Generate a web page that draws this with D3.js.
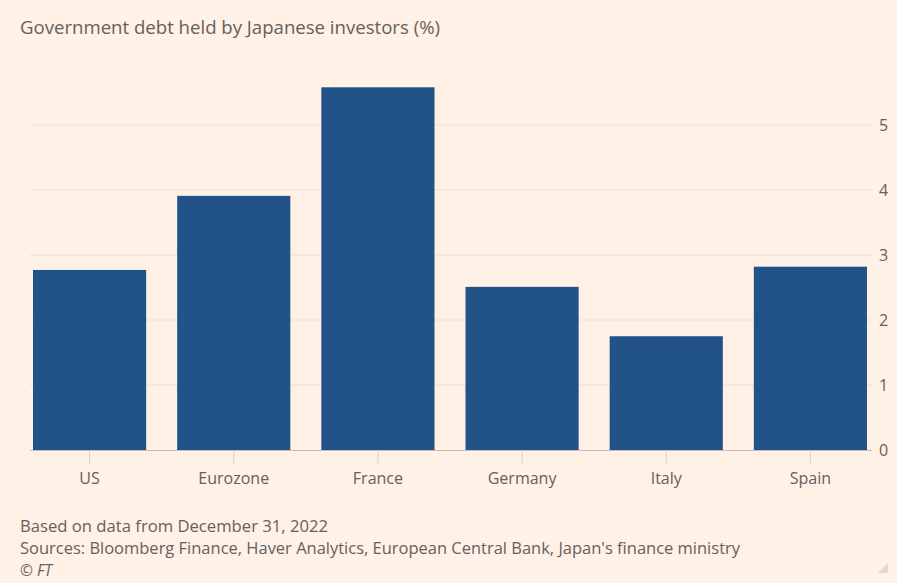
<!DOCTYPE html>
<html>
<head>
<meta charset="utf-8">
<script src="https://cdn.jsdelivr.net/npm/d3@7"></script>
<style>
  html, body { margin: 0; padding: 0; background: #fff1e5; }
  text { font-family: "Open Sans", "Noto Sans", sans-serif; }
</style>
</head>
<body>
<div id="chart"></div>
<script>
// chart data
var countries = ["US", "Eurozone", "France", "Germany", "Italy", "Spain"];
var shares = [2.77, 3.91, 5.58, 2.51, 1.75, 2.82];
var yTicks = [0, 1, 2, 3, 4, 5];
var titleText = "Government debt held by Japanese investors (%)";
var notes = [
    "Based on data from December 31, 2022",
    "Sources: Bloomberg Finance, Haver Analytics, European Central Bank, Japan's finance ministry"
];

var width = 897, height = 583;
var margin = { top: 87, left: 33, right: 30, bottom: 133 };

var svg = d3.select("#chart")
    .append("svg")
    .attr("width", width)
    .attr("height", height);

svg.append("rect")
    .attr("width", width)
    .attr("height", height)
    .attr("fill", "#fff1e5");

//scales
var x = d3.scaleBand()
    .domain(countries)
    .range([margin.left, width - margin.right])
    .paddingInner(0.215)
    .paddingOuter(0);

var y = d3.scaleLinear()
    .domain([0, 5])
    .range([height - margin.bottom, height - margin.bottom - 5 * 65]);

//title
svg.append("text")
    .attr("x", 20)
    .attr("y", 34)
    .attr("fill", "#66605c")
    .attr("font-size", 18)
    .attr("textLength", 420)
    .attr("lengthAdjust", "spacingAndGlyphs")
    .text(titleText);

//gridlines + right axis labels
var grid = svg.append("g");
grid.selectAll("line")
    .data(yTicks.filter(d => d > 0))
    .enter()
    .append("line")
    .attr("x1", 30)
    .attr("x2", 872)
    .attr("y1", d => y(d))
    .attr("y2", d => y(d))
    .attr("stroke", "#ebdfd5")
    .attr("stroke-width", 1);

svg.append("g")
    .attr("transform", "translate(872,0)")
    .call(d3.axisRight(y).tickValues(yTicks).tickFormat(d3.format("d")).tickSize(0).tickPadding(7))
    .call(g => g.select(".domain").remove())
    .selectAll("text")
    .attr("fill", "#66605c")
    .attr("font-size", 16);

//bars
svg.selectAll(".bar")
    .data(countries)
    .enter()
    .append("rect")
    .attr("class", "bar")
    .attr("x", d => x(d))
    .attr("width", x.bandwidth())
    .attr("y", (d, i) => y(shares[i]))
    .attr("height", (d, i) => y(0) - y(shares[i]))
    .attr("fill", "#215388");

//x axis
var xAxis = svg.append("g")
    .attr("transform", "translate(0," + y(0) + ")")
    .call(d3.axisBottom(x).tickSize(14).tickPadding(9));
xAxis.select(".domain")
    .attr("d", "M30,0.5H872")
    .attr("stroke", "#c9bdb3");
xAxis.selectAll(".tick line").attr("stroke", "#ddd1c7");
xAxis.selectAll("text")
    .attr("fill", "#66605c")
    .attr("font-size", 16);

//footer
var noteWidths = [308, 720];
svg.selectAll(".note")
    .data(notes)
    .enter()
    .append("text")
    .attr("class", "note")
    .attr("x", 20)
    .attr("y", (d, i) => 532 + i * 22)
    .attr("fill", "#66605c")
    .attr("font-size", 15.5)
    .attr("textLength", (d, i) => noteWidths[i])
    .attr("lengthAdjust", "spacingAndGlyphs")
    .text(d => d);

svg.append("text")
    .attr("x", 20)
    .attr("y", 576)
    .attr("fill", "#66605c")
    .attr("font-size", 15.5)
    .attr("font-style", "italic")
    .text("\u00a9 FT");

// little resize corner
svg.append("path")
    .attr("d", "M888,563L888,573L878,573Z")
    .attr("fill", "#e4d8ce");
</script>
</body>
</html>
